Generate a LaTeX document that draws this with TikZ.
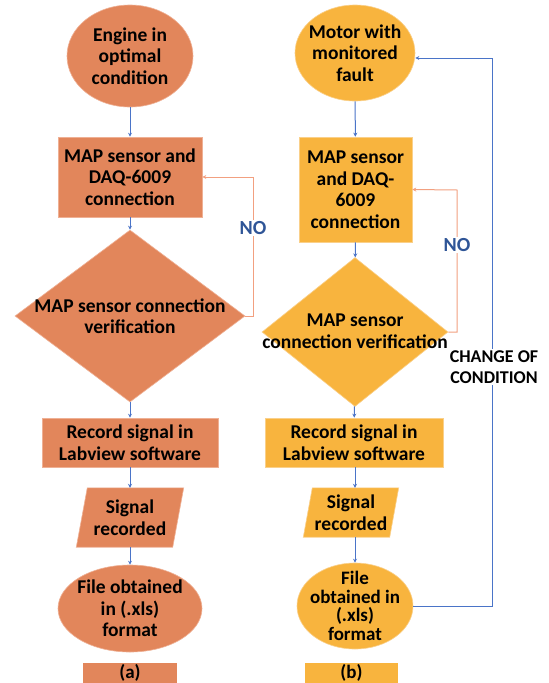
\documentclass[tikz,border=0pt]{standalone}
\usepackage{fontspec}
\setmainfont{Carlito}
\usetikzlibrary{shapes.geometric,arrows.meta,backgrounds}
\definecolor{orA}{HTML}{E2865B}
\definecolor{orAedge}{HTML}{EFB094}
\definecolor{yeB}{HTML}{F8B43E}
\definecolor{yeBedge}{HTML}{FAD08A}
\definecolor{lnB}{HTML}{4A74C8}
\definecolor{lnO}{HTML}{F2A080}
\definecolor{noB}{HTML}{2F5597}
\begin{document}
\begin{tikzpicture}[x=1pt,y=-1pt,
  txt/.style={font=\fontsize{19.5}{21.5}\selectfont\bfseries, align=center, text=black, inner sep=0pt},
  shapeA/.style={fill=orA, draw=orAedge, line width=0.6pt, inner sep=0pt},
  shapeB/.style={fill=yeB, draw=yeBedge, line width=0.6pt, inner sep=0pt},
  ovalshape/.style={ellipse},
  boxshape/.style={rectangle},
  diashape/.style={diamond},
  flow/.style={draw=lnB, line width=1pt, -{Stealth[length=4pt,width=4pt]}},
  noflow/.style={draw=lnO, line width=1pt, -{Stealth[length=4pt,width=4pt]}},
  nolabel/.style={font=\fontsize{20}{22}\selectfont\bfseries, text=noB, fill=white, inner sep=1.5pt},
  caplabel/.style={font=\fontsize{19}{21}\selectfont\bfseries, text=black, inner sep=0pt}
]
\begin{scope}[on background layer]
\fill[white] (0,0) rectangle (549,683);
\end{scope}
\useasboundingbox (0,0) rectangle (549,683);

% ---------- column (a) ----------
\node[shapeA, ovalshape, minimum width=126pt, minimum height=102pt] (E1) at (130,56) {};
\node[txt] (E1t) at (E1) {Engine in\\optimal\\condition};
\node[shapeA, boxshape, minimum width=144pt, minimum height=80pt] (R1) at (130,177) {};
\node[txt] (R1t) at (R1) {MAP sensor and\\DAQ-6009\\connection};
\node[shapeA, diashape, minimum width=230pt, minimum height=172pt] (D1) at (130,316) {};
\node[txt] (D1t) at (130,316) {MAP sensor connection\\verification};
\node[shapeA, boxshape, minimum width=176pt, minimum height=49pt] (R2) at (130,442.5) {};
\node[txt] (R2t) at (R2) {Record signal in\\Labview software};
\node[minimum width=96pt, minimum height=59pt, inner sep=0pt] (P1) at (130,517.5) {};
\begin{scope}[on background layer]
\fill[orA, draw=orAedge, line width=0.6pt] ([xshift=5.5pt]P1.north west) -- ([xshift=5.5pt]P1.north east) -- ([xshift=-5.5pt]P1.south east) -- ([xshift=-5.5pt]P1.south west) -- cycle;
\end{scope}
\node[txt] (P1t) at (P1) {Signal\\recorded};
\node[shapeA, ovalshape, minimum width=144pt, minimum height=87pt] (E2) at (130,608.5) {};
\node[txt] (E2t) at (E2) {File obtained\\in (.xls)\\format};
\node[shapeA, boxshape, draw=none, minimum width=94pt, minimum height=20pt] (L1) at (130,673) {};
\node[caplabel] (L1t) at (L1) {(a)};

\draw[flow] (E1) -- (R1);
\draw[flow] (R1) -- (D1);
\draw[flow] (D1) -- (R2);
\draw[flow] (R2) -- (P1);
\draw[flow] (P1) -- (E2);
\coordinate (n1) at (253,316);
\coordinate (n2) at (253,177);
\draw[noflow] (D1.east) -- (n1) -- (n2) -- (R1.east);
\node[nolabel] (NO1) at (253,228) {NO};

% ---------- column (b) ----------
\node[shapeB, ovalshape, minimum width=120pt, minimum height=96pt] (E3) at (355,53) {};
\node[txt] (E3t) at (E3) {Motor with\\monitored\\fault};
\node[shapeB, boxshape, minimum width=113pt, minimum height=105pt] (R3) at (355.5,189.5) {};
\node[txt] (R3t) at (R3) {MAP sensor\\and DAQ-\\6009\\connection};
\node[shapeB, diashape, minimum width=186pt, minimum height=149pt] (D2) at (355,332) {};
\node[txt] (D2t) at (355,331) {MAP sensor\\connection verification};
\node[shapeB, boxshape, minimum width=178pt, minimum height=49pt] (R4) at (354,442.5) {};
\node[txt] (R4t) at (R4) {Record signal in\\Labview software};
\node[minimum width=86pt, minimum height=49pt, inner sep=0pt] (P2) at (351,512.5) {};
\begin{scope}[on background layer]
\fill[yeB, draw=yeBedge, line width=0.6pt] ([xshift=4.5pt]P2.north west) -- ([xshift=4.5pt]P2.north east) -- ([xshift=-4.5pt]P2.south east) -- ([xshift=-4.5pt]P2.south west) -- cycle;
\end{scope}
\node[txt] (P2t) at (P2) {Signal\\recorded};
\node[shapeB, ovalshape, minimum width=116pt, minimum height=86pt] (E4) at (355,606) {};
\node[txt, font=\fontsize{19}{18.7}\selectfont\bfseries] (E4t) at (E4) {File\\obtained in\\(.xls)\\format};
\node[shapeB, boxshape, draw=none, minimum width=93pt, minimum height=20pt] (L2) at (351.5,673) {};
\node[caplabel] (L2t) at (L2) {(b)};

\draw[flow] (E3) -- (R3);
\draw[flow] (R3) -- (D2);
\draw[flow] (D2) -- (R4);
\draw[flow] (R4.south -| E3) -- (P2.north -| E3);
\draw[flow] (P2.south -| E3) -- (E4);
\coordinate (n3) at (457,332);
\coordinate (n4) at (457,190);
\draw[noflow] (D2.east) -- (n3) -- (n4) -- (R3.east);
\node[nolabel] (NO2) at (457,245) {NO};

\coordinate (c1) at (492,606);
\coordinate (c2) at (492,58);
\draw[flow] (E4.east) -- (c1) -- (c2) -- (E3.east |- c2);
\node[caplabel, fill=white, inner sep=2pt, align=center, font=\fontsize{18}{21}\selectfont\bfseries] (CC) at (494,367) {CHANGE OF\\CONDITION};
\end{tikzpicture}
\end{document}
